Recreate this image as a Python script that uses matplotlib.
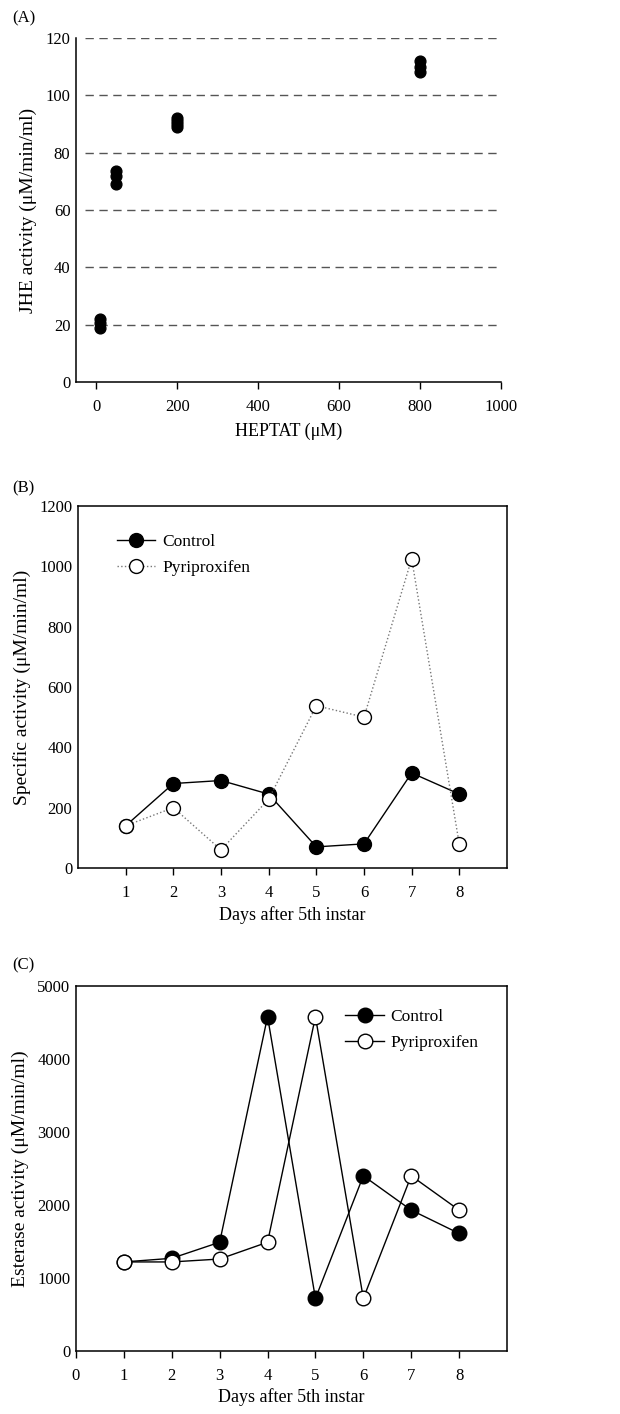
import matplotlib
matplotlib.use("Agg")
import matplotlib.pyplot as plt

plt.rcParams["font.family"] = ["Liberation Serif", "DejaVu Serif"]
plt.rcParams["font.size"] = 11

# ---- Data ----
# (A) JHE activity vs HEPTAT concentration (replicates)
heptat = [10, 10, 10, 50, 50, 50, 200, 200, 200, 200, 800, 800, 800]
jhe = [22, 20.5, 19, 73.5, 72, 69, 92, 91, 90, 89, 112, 110, 108]

# (B) specific activity
days = [1, 2, 3, 4, 5, 6, 7, 8]
spec_control = [140, 280, 290, 245, 70, 80, 315, 245]
spec_pyri = [140, 200, 60, 228, 538, 500, 1025, 78]

# (C) esterase activity
est_control = [1220, 1270, 1490, 4580, 720, 2400, 1930, 1610]
est_pyri = [1220, 1220, 1260, 1490, 4580, 720, 2400, 1930]

W, H = 620, 1414
fig = plt.figure(figsize=(W / 100, H / 100), dpi=100)
fig.patch.set_facecolor("white")


def px_axes(l, r, t, b):
    return fig.add_axes([l / W, 1 - b / H, (r - l) / W, (b - t) / H])


def style(ax):
    ax.tick_params(axis="x", direction="out", length=5, width=1, labelsize=12, pad=7)
    ax.tick_params(axis="y", length=0, labelsize=12, pad=4)
    for s in ax.spines.values():
        s.set_linewidth(1.1)


# ---- (A) ----
ax = px_axes(76, 501, 38, 382)
ax.scatter(heptat, jhe, s=60, color="black", zorder=3)
ax.set_xlim(-50, 1000)
ax.set_ylim(0, 120)
ax.set_xticks([0, 200, 400, 600, 800, 1000])
ax.set_yticks([0, 20, 40, 60, 80, 100, 120])
for v in [20, 40, 60, 80, 100, 120]:
    ax.axhline(v, xmin=0.02, color="#555555", lw=1, ls=(0, (6, 4)), zorder=1)
ax.spines["top"].set_visible(False)
ax.spines["right"].set_visible(False)
style(ax)
ax.set_xlabel("HEPTAT (μM)", fontsize=13, labelpad=6)
ax.set_ylabel("JHE activity (μM/min/ml)", fontsize=14, labelpad=6)
fig.text(12 / W, 1 - 18 / H, "(A)", fontsize=12, va="center")

# ---- (B) ----
ax = px_axes(78, 507, 506, 868)
ax.plot(days, spec_control, "-", color="black", lw=1, marker="o", ms=10,
        mfc="black", mec="black", label="Control", zorder=3)
ax.plot(days, spec_pyri, ":", color="#777777", lw=1, marker="o", ms=10,
        mfc="white", mec="black", label="Pyriproxifen", zorder=4)
ax.set_xlim(0, 9)
ax.set_ylim(0, 1200)
ax.set_xticks(days)
ax.set_yticks([0, 200, 400, 600, 800, 1000, 1200])
style(ax)
ax.set_xlabel("Days after 5th instar", fontsize=13, labelpad=4)
ax.set_ylabel("Specific activity (μM/min/ml)", fontsize=14, labelpad=6)
ax.legend(loc="upper left", bbox_to_anchor=(0.055, 0.965), frameon=False,
          fontsize=12.5, handlelength=2.2, handletextpad=0.4, labelspacing=0.55)
fig.text(12 / W, 1 - 488 / H, "(B)", fontsize=12, va="center")

# ---- (C) ----
ax = px_axes(76, 507, 986, 1351)
ax.plot(days, est_control, "-", color="black", lw=1, marker="o", ms=10.5,
        mfc="black", mec="black", label="Control", zorder=3)
ax.plot(days, est_pyri, "-", color="black", lw=1, marker="o", ms=10.5,
        mfc="white", mec="black", label="Pyriproxifen", zorder=4)
ax.set_xlim(0, 9)
ax.set_ylim(0, 5000)
ax.set_xticks([0] + days)
ax.set_yticks([0, 1000, 2000, 3000, 4000, 5000])
style(ax)
ax.set_xlabel("Days after 5th instar", fontsize=13, labelpad=3)
ax.set_ylabel("Esterase activity (μM/min/ml)", fontsize=14, labelpad=6)
ax.legend(loc="upper left", bbox_to_anchor=(0.589, 0.98), frameon=False,
          fontsize=12.5, handlelength=2.2, handletextpad=0.4, labelspacing=0.55)
fig.text(12 / W, 1 - 965 / H, "(C)", fontsize=12, va="center")

fig.savefig("out.png", dpi=100, facecolor="white")
